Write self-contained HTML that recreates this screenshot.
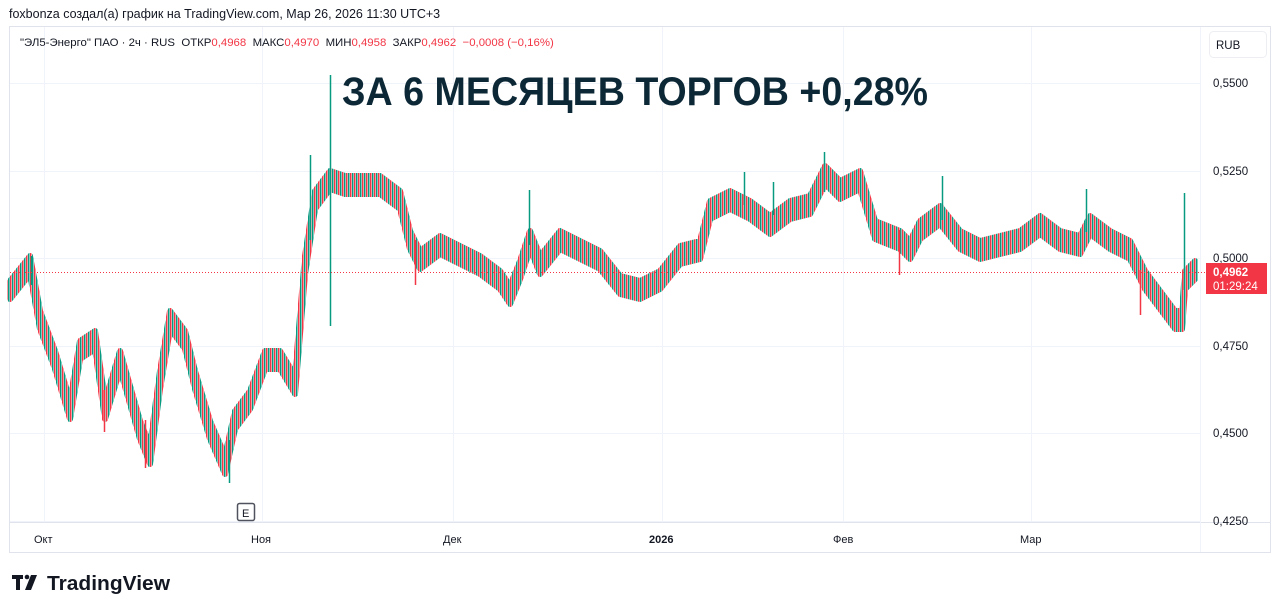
<!DOCTYPE html>
<html><head><meta charset="utf-8"><style>
html,body{margin:0;padding:0;background:#fff;width:1281px;height:613px;overflow:hidden;font-family:"Liberation Sans","DejaVu Sans",sans-serif}
</style></head><body>
<svg width="1281" height="613" xmlns="http://www.w3.org/2000/svg" style="position:absolute;left:0;top:0">
<defs>
<pattern id="st" x="0" y="0" width="4" height="10" patternUnits="userSpaceOnUse">
<rect x="0" y="0" width="1.5" height="10" fill="#089981"/>
<rect x="2" y="0" width="1.5" height="10" fill="#f23645"/>
</pattern>
</defs>
<rect x="0" y="0" width="1281" height="613" fill="#fff"/>
<text x="9" y="18" font-size="12.5" fill="#131722">foxbonza создал(а) график на TradingView.com, Мар 26, 2026 11:30 UTC+3</text>
<rect x="9.5" y="26.5" width="1261" height="526" fill="none" stroke="#e0e3eb"/>
<g stroke="#f0f3fa" stroke-width="1">
<line x1="10" y1="83.5" x2="1200" y2="83.5"/><line x1="10" y1="171.5" x2="1200" y2="171.5"/>
<line x1="10" y1="258.5" x2="1200" y2="258.5"/><line x1="10" y1="346.5" x2="1200" y2="346.5"/>
<line x1="10" y1="433.5" x2="1200" y2="433.5"/><line x1="10" y1="521.5" x2="1200" y2="521.5"/>
<line x1="44.5" y1="27" x2="44.5" y2="522"/><line x1="262.5" y1="27" x2="262.5" y2="522"/>
<line x1="453.5" y1="27" x2="453.5" y2="522"/><line x1="662.5" y1="27" x2="662.5" y2="522"/>
<line x1="843.5" y1="27" x2="843.5" y2="522"/><line x1="1031.5" y1="27" x2="1031.5" y2="522"/>
</g>
<line x1="9" y1="522.5" x2="1270" y2="522.5" stroke="#e0e3eb"/>
<line x1="1200.5" y1="27" x2="1200.5" y2="552" stroke="#f0f3fa"/>
<text x="20" y="46" font-size="11.4" fill="#131722" style="white-space:pre">"ЭЛ5-Энерго" ПАО · 2ч · RUS  ОТКР<tspan fill="#f23645">0,4968</tspan>  МАКС<tspan fill="#f23645">0,4970</tspan>  МИН<tspan fill="#f23645">0,4958</tspan>  ЗАКР<tspan fill="#f23645">0,4962</tspan>  <tspan fill="#f23645">−0,0008 (−0,16%)</tspan></text>
<rect x="1209.5" y="31.5" width="57" height="26" rx="4" fill="#fff" stroke="#eceef2"/>
<text x="1216" y="49" font-size="11.5" fill="#131722">RUB</text>
<g font-size="11.5" fill="#131722">
<text x="1213" y="87">0,5500</text><text x="1213" y="175">0,5250</text><text x="1213" y="262">0,5000</text>
<text x="1213" y="350">0,4750</text><text x="1213" y="437">0,4500</text><text x="1213" y="525">0,4250</text>
</g>
<g font-size="11" fill="#131722">
<text x="34" y="543">Окт</text><text x="251" y="543">Ноя</text><text x="443" y="543">Дек</text>
<text x="649" y="543" font-weight="bold">2026</text><text x="833" y="543">Фев</text><text x="1020" y="543">Мар</text>
</g>
<polygon fill="url(#st)" stroke="url(#st)" stroke-width="6" stroke-linejoin="round" points="10,281 30,256 40,311 55,351 70,401 80,341 95,331 105,401 120,351 140,421 150,446 160,371 170,311 185,331 195,371 210,421 225,456 235,411 250,391 265,351 280,351 295,376 305,256 315,191 330,171 345,176 380,176 400,191 410,231 420,251 440,236 460,246 480,256 500,271 510,286 520,261 530,231 540,256 560,231 580,241 600,251 620,276 640,281 660,271 680,246 700,241 710,201 730,191 750,201 770,216 790,201 810,196 825,166 840,181 860,171 875,221 900,231 910,241 920,221 940,206 960,231 980,241 1000,236 1020,231 1040,216 1060,231 1080,236 1090,216 1110,231 1130,241 1145,271 1160,291 1175,311 1182,311 1185,271 1195,261 1195,279 1185,289 1182,329 1175,329 1160,309 1145,289 1130,259 1110,249 1090,234 1080,254 1060,249 1040,234 1020,249 1000,254 980,259 960,249 940,224 920,239 910,259 900,249 875,239 860,189 840,199 825,184 810,214 790,219 770,234 750,219 730,209 710,219 700,259 680,264 660,289 640,299 620,294 600,269 580,259 560,249 540,274 530,249 520,279 510,304 500,289 480,274 460,264 440,254 420,269 410,249 400,209 380,194 345,194 330,189 315,209 305,274 295,394 280,369 265,369 250,409 235,429 225,474 210,439 195,389 185,349 170,329 160,389 150,464 140,439 120,369 105,419 95,349 80,359 70,419 55,369 40,329 30,274 10,299"/>
<g stroke-width="1.5">
<line x1="330.5" y1="75" x2="330.5" y2="326" stroke="#089981"/>
<line x1="310.5" y1="155" x2="310.5" y2="240" stroke="#089981"/>
<line x1="1184.5" y1="193" x2="1184.5" y2="290" stroke="#089981"/>
<line x1="942.5" y1="176" x2="942.5" y2="220" stroke="#089981"/>
<line x1="1086.5" y1="189" x2="1086.5" y2="232" stroke="#089981"/>
<line x1="529.5" y1="190" x2="529.5" y2="245" stroke="#089981"/>
<line x1="824.5" y1="152" x2="824.5" y2="192" stroke="#089981"/>
<line x1="744.5" y1="172" x2="744.5" y2="205" stroke="#089981"/>
<line x1="773.5" y1="182" x2="773.5" y2="215" stroke="#089981"/>
<line x1="229.5" y1="440" x2="229.5" y2="483" stroke="#089981"/>
<line x1="145.5" y1="420" x2="145.5" y2="468" stroke="#f23645"/>
<line x1="31.5" y1="256" x2="31.5" y2="285" stroke="#089981"/>
<line x1="1140.5" y1="270" x2="1140.5" y2="315" stroke="#f23645"/>
<line x1="899.5" y1="230" x2="899.5" y2="275" stroke="#f23645"/>
<line x1="415.5" y1="240" x2="415.5" y2="285" stroke="#f23645"/>
<line x1="104.5" y1="390" x2="104.5" y2="432" stroke="#f23645"/>
</g>
<line x1="10" y1="272.5" x2="1206" y2="272.5" stroke="#f23645" stroke-dasharray="1,2"/>
<rect x="1206" y="263" width="61" height="31" fill="#f23645"/>
<text x="1213" y="276" font-size="11.5" font-weight="bold" fill="#fff">0,4962</text>
<text x="1213" y="290" font-size="11.5" fill="#fff">01:29:24</text>
<rect x="237.5" y="503.5" width="17" height="17" rx="2" fill="#fff" stroke="#50535e" stroke-width="1.5"/>
<text x="242" y="517" font-size="11" fill="#131722">E</text>
<text x="342" y="105" font-size="40" font-weight="bold" fill="#0c2836" textLength="586" lengthAdjust="spacingAndGlyphs">ЗА 6 МЕСЯЦЕВ ТОРГОВ +0,28%</text>
<g fill="#131722"><rect x="12" y="575" width="11" height="4"/><rect x="16" y="575" width="4" height="15"/><circle cx="27" cy="577" r="2.3"/><polygon points="31,575 37,575 31,590 25,590"/></g>
<text x="47" y="590" font-size="20" font-weight="bold" fill="#131722" textLength="123" lengthAdjust="spacingAndGlyphs">TradingView</text>
</svg>
</body></html>
